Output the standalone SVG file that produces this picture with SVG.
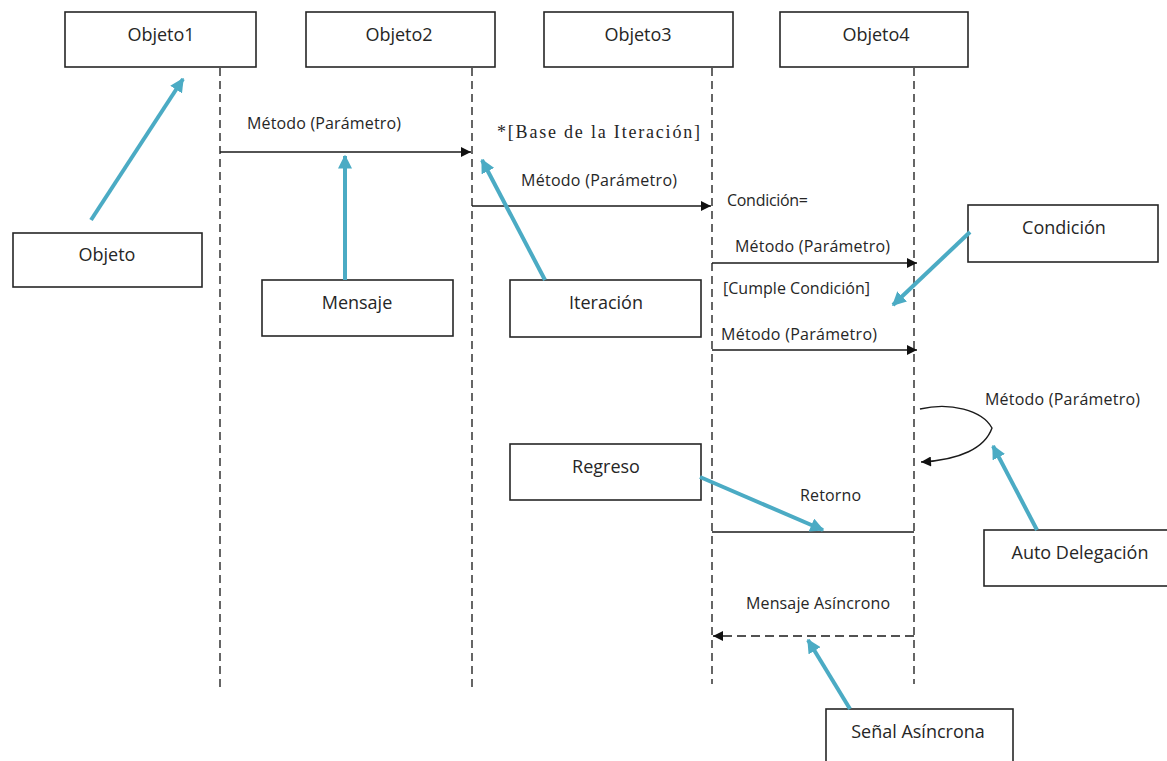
<svg xmlns="http://www.w3.org/2000/svg" width="1167" height="761" viewBox="0 0 1167 761">
<defs>
<style>
.box{fill:#fff;stroke:#262626;stroke-width:1.6}
.bl{font-family:"Open Sans","Liberation Sans",sans-serif;font-size:18px;fill:#262626;text-anchor:middle}
.ml{font-family:"Open Sans","Liberation Sans",sans-serif;font-size:16px;fill:#262626}
.sl{font-family:"Liberation Serif","DejaVu Serif",serif;font-size:18px;fill:#262626}
.life{stroke:#262626;stroke-width:1.4;stroke-dasharray:8 5;fill:none}
.msg{stroke:#1a1a1a;stroke-width:1.4;fill:none}
.teal{stroke:#4babc4;stroke-width:4;fill:none}
</style>
<marker id="ah" viewBox="0 0 10 10" refX="10" refY="5" markerWidth="11" markerHeight="10" markerUnits="userSpaceOnUse" orient="auto">
<path d="M0,0 L10,5 L0,10 z" fill="#111"/>
</marker>
<marker id="th" viewBox="0 0 10 10" refX="9" refY="5" markerWidth="14" markerHeight="14" markerUnits="userSpaceOnUse" orient="auto">
<path d="M0,0 L10,5 L0,10 z" fill="#4babc4"/>
</marker>
</defs>
<rect width="1167" height="761" fill="#fff"/>

<g id="objeto1"><rect class="box" x="65" y="12" width="191" height="55"/><text class="bl" x="161" y="41">Objeto1</text></g>
<g id="objeto2"><rect class="box" x="306" y="12" width="189" height="55"/><text class="bl" x="399" y="41">Objeto2</text></g>
<g id="objeto3"><rect class="box" x="544" y="12" width="189" height="55"/><text class="bl" x="638" y="41">Objeto3</text></g>
<g id="objeto4"><rect class="box" x="780" y="12" width="188" height="55"/><text class="bl" x="876" y="41">Objeto4</text></g>

<g id="lifelines">
<line class="life" x1="220" y1="68" x2="220" y2="692"/>
<line class="life" x1="472" y1="68" x2="472" y2="692"/>
<line class="life" x1="712" y1="68" x2="712" y2="684"/>
<line class="life" x1="914" y1="68" x2="914" y2="684"/>
</g>

<g id="legend-objeto"><rect class="box" x="13" y="233" width="189" height="54"/><text class="bl" x="107" y="261">Objeto</text></g>
<g id="legend-mensaje"><rect class="box" x="262" y="280" width="191" height="56"/><text class="bl" x="357" y="309">Mensaje</text></g>
<g id="legend-iteracion"><rect class="box" x="510" y="280" width="191" height="57"/><text class="bl" x="606" y="309">Iteración</text></g>
<g id="legend-condicion"><rect class="box" x="968" y="205" width="190" height="57"/><text class="bl" x="1064" y="234">Condición</text></g>
<g id="legend-regreso"><rect class="box" x="510" y="444" width="191" height="56"/><text class="bl" x="606" y="473">Regreso</text></g>
<g id="legend-auto"><rect class="box" x="984" y="530" width="190" height="56"/><text class="bl" x="1080" y="559">Auto Delegación</text></g>
<g id="legend-senal"><rect class="box" x="826" y="709" width="187" height="60"/><text class="bl" x="918" y="738">Señal Asíncrona</text></g>

<g id="connectors">
<line class="msg" x1="220" y1="152" x2="471" y2="152" marker-end="url(#ah)"/>
<line class="msg" x1="472" y1="206" x2="711" y2="206" marker-end="url(#ah)"/>
<line class="msg" x1="712" y1="263" x2="917" y2="263" marker-end="url(#ah)"/>
<line class="msg" x1="712" y1="350" x2="917" y2="350" marker-end="url(#ah)"/>
<path class="msg" d="M920,409 C950,402 982,410 992,428 C985,448 960,460 921,462" marker-end="url(#ah)"/>
<line class="msg" x1="712" y1="532" x2="914" y2="532"/>
<line class="msg" x1="914" y1="636" x2="713" y2="636" stroke-dasharray="9 5" stroke="#444" marker-end="url(#ah)"/>

<line class="teal" x1="91" y1="220" x2="183" y2="79" marker-end="url(#th)"/>
<line class="teal" x1="345" y1="280" x2="345" y2="156" marker-end="url(#th)"/>
<line class="teal" x1="545" y1="280" x2="482" y2="160" marker-end="url(#th)"/>
<line class="teal" x1="970" y1="232" x2="893" y2="305" marker-end="url(#th)"/>
<line class="teal" x1="1037" y1="530" x2="993" y2="446" marker-end="url(#th)"/>
<line class="teal" x1="700" y1="477" x2="823" y2="530" marker-end="url(#th)"/>
<line class="teal" x1="850" y1="709" x2="808" y2="640" marker-end="url(#th)"/>
</g>

<g id="labels">
<text class="ml" x="247" y="129" textLength="154">Método (Parámetro)</text>
<text class="sl" x="497" y="138" textLength="203">*[Base de la Iteración]</text>
<text class="ml" x="521" y="186" textLength="156">Método (Parámetro)</text>
<text class="ml" x="727" y="206" textLength="81">Condición=</text>
<text class="ml" x="735" y="252" textLength="155">Método (Parámetro)</text>
<text class="ml" x="723" y="294" textLength="147">[Cumple Condición]</text>
<text class="ml" x="721" y="340" textLength="156">Método (Parámetro)</text>
<text class="ml" x="985" y="405" textLength="155">Método (Parámetro)</text>
<text class="ml" x="800" y="501" textLength="61">Retorno</text>
<text class="ml" x="746" y="609" textLength="144">Mensaje Asíncrono</text>
</g>
</svg>
